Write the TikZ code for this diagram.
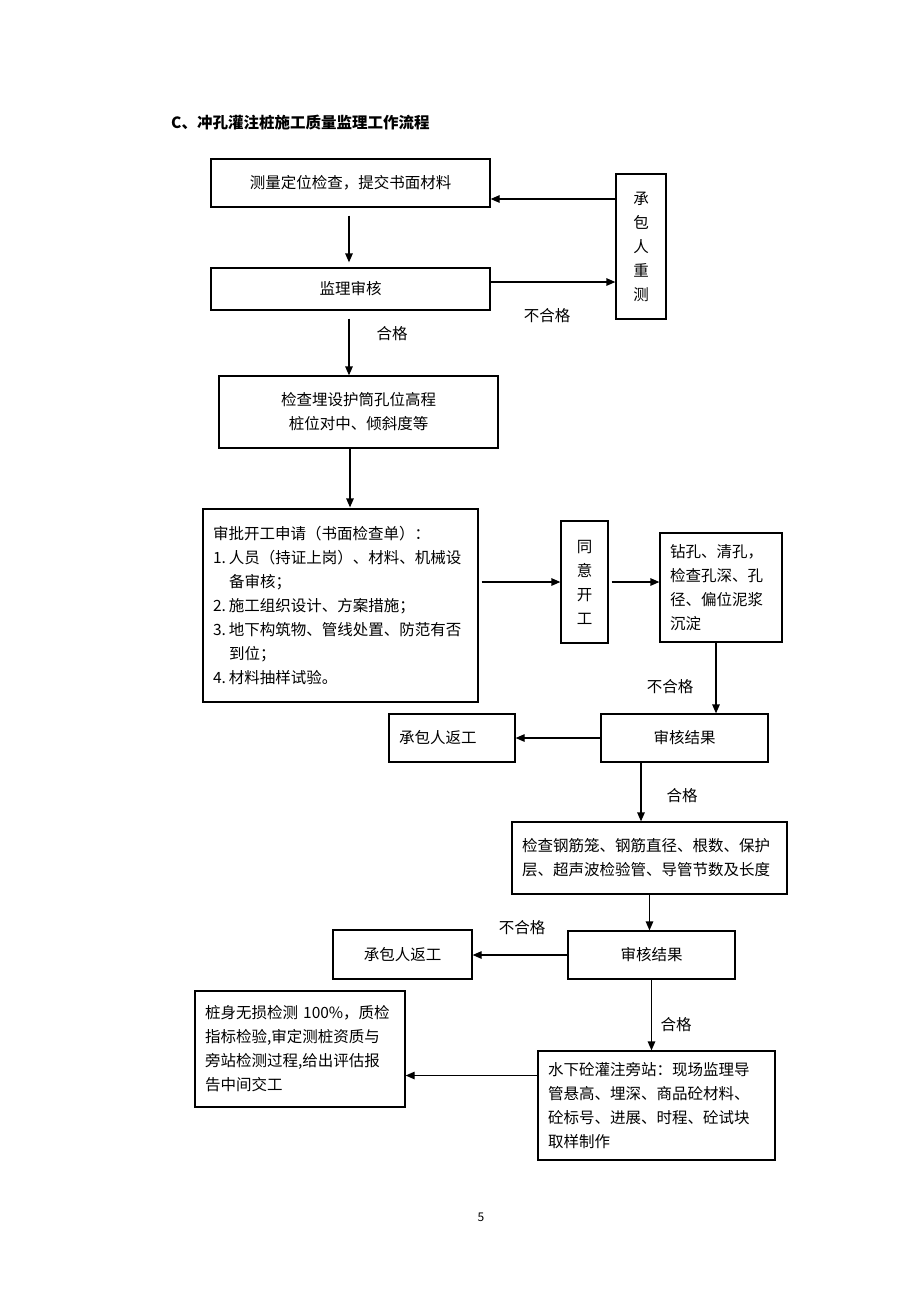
\documentclass[tikz,border=0pt]{standalone}
\usepackage{fontspec}
\setmainfont{Noto Sans CJK SC}
\usetikzlibrary{arrows.meta,calc}
\begin{document}
\begin{tikzpicture}[x=1pt,y=-1pt,
  every node/.style={font=\fontsize{15.5}{24}\selectfont},
  box/.style={draw, line width=1.25pt, rectangle, inner xsep=10pt, inner ysep=0pt},
  lbox/.style={box, align=left},
  cbox/.style={box, align=center},
  lbl/.style={inner sep=0pt},
  arr/.style={line width=1.25pt, -{Triangle[length=9pt,width=7.5pt]}},
]
\useasboundingbox (0,0) rectangle (920,1302);
\fill[white] (0,0) rectangle (920,1302);

\node[lbl, anchor=west, font=\fontsize{15.5}{20}\selectfont\bfseries] (title) at (171,122.7) {C、冲孔灌注桩施工质量监理工作流程};

% boxes
\node[cbox, minimum width=279, minimum height=48] (b1) at (350.5,183) {测量定位检查，提交书面材料};
\node[cbox, minimum width=50, minimum height=145, inner xsep=0pt] (redo) at (641,246.5) {承\\包\\人\\重\\测};
\node[cbox, minimum width=279, minimum height=42] (b2) at (350.5,289) {监理审核};
\node[cbox, minimum width=279, minimum height=72] (b3) at (358.5,412) {检查埋设护筒孔位高程\\桩位对中、倾斜度等};
\node[lbox, text width=255, minimum height=193] (b4) at (340.5,605.5) {审批开工申请（书面检查单）：\\1.\hspace{3pt}人员（持证上岗）、材料、机械设\\\hspace*{16pt}备审核；\\2.\hspace{3pt}施工组织设计、方案措施；\\3.\hspace{3pt}地下构筑物、管线处置、防范有否\\\hspace*{16pt}到位；\\4.\hspace{3pt}材料抽样试验。};
\node[cbox, minimum width=47, minimum height=122, inner xsep=0pt] (agree) at (584.5,582) {同\\意\\开\\工};
\node[lbox, text width=102, minimum height=109] (drill) at (721,587.5) {钻孔、清孔，\\检查孔深、孔\\径、偏位泥浆\\沉淀};
\node[cbox, minimum width=167, minimum height=48] (rev1) at (684.5,738) {审核结果};
\node[lbox, text width=106, minimum height=48] (ret1) at (452,738) {承包人返工};
\node[lbox, text width=255, minimum height=72] (rebar) at (649.5,858) {检查钢筋笼、钢筋直径、根数、保护\\层、超声波检验管、导管节数及长度};
\node[cbox, minimum width=167, minimum height=48] (rev2) at (651.5,955) {审核结果};
\node[cbox, minimum width=139, minimum height=49] (ret2) at (402.5,954.5) {承包人返工};
\node[lbox, text width=190, minimum height=116] (test) at (300,1049) {桩身无损检测 100\%，质检\\指标检验,审定测桩资质与\\旁站检测过程,给出评估报\\告中间交工};
\node[lbox, text width=217, minimum height=109] (pour) at (656.5,1105.5) {水下砼灌注旁站：现场监理导\\管悬高、埋深、商品砼材料、\\砼标号、进展、时程、砼试块\\取样制作};

% helper coordinates
\coordinate (r1) at ($(b1.east)+(0,16)$);
\coordinate (r2) at ($(b2.east)+(0,-7)$);
\coordinate (d1) at ($(drill.south)+(-5,0)$);
\coordinate (p1) at ($(pour.west)+(0,-30)$);
\coordinate (c1) at ($(b1.south)+(-1.5,0)$);
\coordinate (c2) at ($(b2.south)+(-1.5,0)$);
\coordinate (c3) at ($(b3.south)+(-8.5,0)$);
\coordinate (v1) at ($(rev1.south)+(-43.5,0)$);

% connectors
\draw[arr] (r1 -| redo.west) -- (r1);
\draw[arr] (r2) -- (r2 -| redo.west);
\draw[arr, shorten <=8pt, shorten >=5pt] (c1) -- (c1 |- b2.north);
\draw[arr, shorten <=8pt] (c2) -- (c2 |- b3.north);
\draw[arr, shorten >=1pt] (c3) -- (c3 |- b4.north);
\draw[arr, shorten <=3pt] (agree.west -| b4.east) -- (agree.west);
\draw[arr, shorten <=3pt] (agree.east) -- (agree.east -| drill.west);
\draw[arr] (d1) -- (d1 |- rev1.north);
\draw[arr] (rev1.west) -- (ret1.east);
\draw[arr] (v1) -- (v1 |- rebar.north);
\draw[arr] (rebar.south) -- (rebar.south |- rev2.north);
\draw[arr] (rev2.west) -- (rev2.west -| ret2.east);
\draw[arr] (rev2.south) -- (rev2.south |- pour.north);
\draw[arr] (p1) -- (p1 -| test.east);

% labels
\node[lbl] (l1) at (547,316) {不合格};
\node[lbl] (l2) at (392,334) {合格};
\node[lbl] (l3) at (670,687) {不合格};
\node[lbl] (l4) at (682,796) {合格};
\node[lbl] (l5) at (522,928) {不合格};
\node[lbl] (l6) at (676,1025) {合格};
\node[lbl, font=\fontsize{12}{14}\selectfont] (pg) at (481,1217) {5};
\end{tikzpicture}
\end{document}
